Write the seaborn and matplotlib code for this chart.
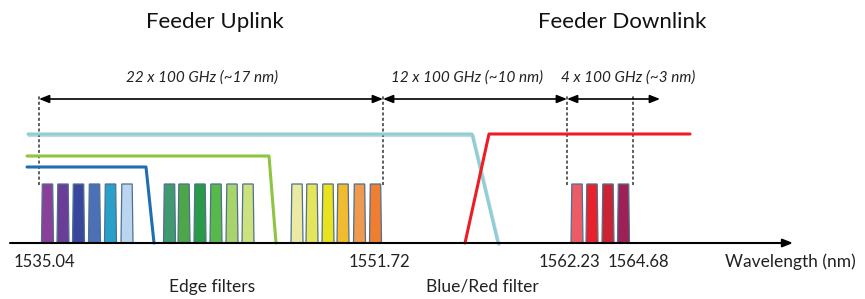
import matplotlib
matplotlib.use("Agg")
import matplotlib.pyplot as plt
from matplotlib.patches import Polygon
import seaborn as sns

# diagram x units ~ reference pixels, y = height above the wavelength axis
channel_groups = {
    "uplink_a": [47.5, 63, 78.5, 94.5, 110.5, 127],
    "uplink_b": [169.5, 184, 200, 216, 232, 248],
    "uplink_c": [297, 312, 328, 343, 359.5, 375.5],
    "downlink": [577, 592, 608, 623.5],
}
channel_colors = {
    "uplink_a": ["#8a3f98", "#6a3d96", "#38479b", "#4b70b6", "#2aa0c9", "#b9d5ef"],
    "uplink_b": ["#3f9a70", "#4ea64a", "#2b9a46", "#57b94a", "#a9d36b", "#cbe27e"],
    "uplink_c": ["#eaeaa2", "#e5e55c", "#e9e21e", "#f2ba2e", "#f09a50", "#ef7e30"],
    "downlink": ["#ec5c66", "#e8212d", "#cb2331", "#9d2157"],
}
channel_height = 59

# edge filter / blue-red filter transmission shapes
edge_blue_x = [27, 146, 154]
edge_blue_y = [76, 76, 0]
edge_green_x = [27, 269, 276]
edge_green_y = [87, 87, 0]
blue_filter_x = [28, 472, 498]
blue_filter_y = [109, 109, 0]
red_filter_x = [465, 489, 690]
red_filter_y = [0, 109, 109]

marker_x = [39, 383, 567, 633]
marker_labels = ["1535.04", "1551.72", "1562.23", "1564.68"]
marker_label_x = [44, 379, 569, 638]
span_from = [39, 383, 567]
span_to = [383, 567, 660]
span_labels = ["22 x 100 GHz (~17 nm)", "12 x 100 GHz (~10 nm)", "4 x 100 GHz (~3 nm)"]
span_text_x = [202, 467, 628]

sns.set_theme(style="white")
plt.rcParams["font.family"] = ["Lato", "DejaVu Sans"]

fig = plt.figure(figsize=(8.65, 2.99), dpi=100)
ax = fig.add_axes([0, 0, 1, 1])
ax.set_xlim(0, 865)
ax.set_ylim(-56, 243)
ax.axis("off")

# channels as slightly tapered bars
half_w, taper = 6.0, 0.8
for key, xs in channel_groups.items():
    for xc, col in zip(xs, channel_colors[key]):
        pts = [(xc - half_w, 0), (xc + half_w, 0),
               (xc + half_w - taper, channel_height), (xc - half_w + taper, channel_height)]
        ax.add_patch(Polygon(pts, closed=True, facecolor=col,
                             edgecolor="#50708f", linewidth=0.9, zorder=3))

# filter curves
filters = [
    (blue_filter_x, blue_filter_y, "#8ccfd6"),
    (edge_green_x, edge_green_y, "#8cc63f"),
    (edge_blue_x, edge_blue_y, "#1f6db3"),
    (red_filter_x, red_filter_y, "#ee1c24"),
]
# soft shadow under the blue/red filter
sns.lineplot(x=[v + 1 for v in blue_filter_x], y=[v - 1.5 for v in blue_filter_y],
             sort=False, color="#cdd6dc", linewidth=2.4, ax=ax, zorder=1)
for fx, fy, col in filters:
    sns.lineplot(x=fx, y=fy, sort=False, color=col, linewidth=2.2, ax=ax, zorder=4)

# wavelength axis
ax.annotate("", xy=(793, 0), xytext=(10, 0),
            arrowprops=dict(arrowstyle="-|>,head_length=0.5,head_width=0.2",
                            color="black", lw=1.5, shrinkA=0, shrinkB=0), zorder=5)
for tx, lab in zip(marker_label_x, marker_labels):
    ax.text(tx, -19, lab, ha="center", va="center", fontsize=12, color="#222222")
ax.text(790, -19, "Wavelength (nm)", ha="center", va="center", fontsize=12.5, color="#222222")
ax.text(212, -44, "Edge filters", ha="center", va="center", fontsize=12.5, color="#222222")
ax.text(482, -44, "Blue/Red filter", ha="center", va="center", fontsize=12.5, color="#222222")

# dashed markers and spans
ax.vlines(marker_x, 58, 148, colors="#333333", linestyles=(0, (2, 1.5)), linewidth=1.1, zorder=2)
for x0, x1, lab, tx in zip(span_from, span_to, span_labels, span_text_x):
    ax.annotate("", xy=(x1, 144), xytext=(x0, 144),
                arrowprops=dict(arrowstyle="<|-|>,head_length=0.5,head_width=0.2",
                                color="black", lw=1.2, shrinkA=0, shrinkB=0))
    ax.text(tx, 165, lab, ha="center", va="center", fontsize=11, style="italic",
            color="#222222")

ax.text(215, 221, "Feeder Uplink", ha="center", va="center", fontsize=16, color="#111111")
ax.text(622, 221, "Feeder Downlink", ha="center", va="center", fontsize=16, color="#111111")

fig.savefig("out.png", dpi=100)
plt.close(fig)
